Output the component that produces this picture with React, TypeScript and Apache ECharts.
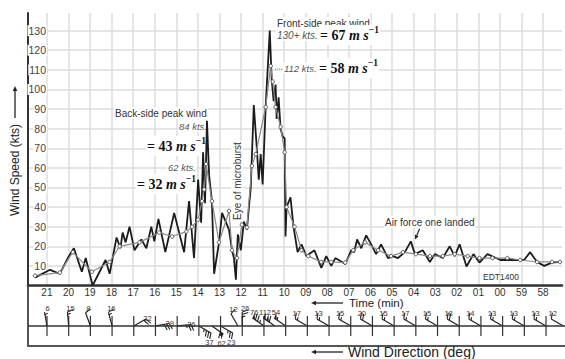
import React, { useEffect, useRef } from 'react';
import * as echarts from 'echarts';

// Minute labels along the time axis, left to right (time runs right-to-left).
const MINUTE_LABELS = ['21', '20', '19', '18', '17', '16', '15', '14', '13', '12', '11', '10',
  '09', '08', '07', '06', '05', '04', '03', '02', '01', '00', '59', '58'];

// Axis position of each sample, in minutes counted from the "58" mark.
const RAW_T = [23.55, 22.86, 22.40, 22.03, 21.75, 21.38, 21.20, 20.88, 20.28, 20.09, 19.77, 19.59,
  19.49, 19.35, 19.17, 18.94, 18.62, 18.39, 18.16, 18.02, 17.83, 17.51, 17.10, 16.64, 16.41, 16.18,
  15.99, 15.85, 15.76, 15.67, 15.58, 15.48, 15.35, 15.25, 15.02, 14.88, 14.56, 14.42, 14.33, 14.24,
  14.15, 14.01, 13.87, 13.73, 13.55, 13.41, 13.27, 13.18, 13.09, 13.00, 12.86, 12.67, 12.58, 12.49,
  12.40, 12.35, 12.26, 12.17, 12.07, 11.98, 11.94, 11.89, 11.71, 11.57, 11.38, 11.20, 10.97, 10.60,
  10.28, 10.05, 9.82, 9.63, 9.17, 8.89, 8.76, 8.62, 8.43, 8.20, 7.97, 7.74, 7.51, 7.19, 6.96, 6.73,
  6.41, 6.13, 5.94, 5.58, 5.25, 5.02, 4.65, 4.33, 4.10, 3.87, 3.55, 3.23, 2.95, 2.58, 1.98, 1.29,
  0.88, 0.60, 0.28, -0.05, -0.41, -0.78];
// Instantaneous wind speed (kts).
const RAW_KTS = [4, 8, 6, 14, 19, 7, 14, 0, 13, 6, 24.5, 19,
  27, 22, 30, 18, 23.5, 19, 30, 22.5, 34, 17, 37, 17, 43, 14,
  54, 32, 68, 42, 84, 56, 43, 6, 22, 37, 28.5, 18, 14, 3,
  26, 18, 32.6, 28.5, 50, 92, 70, 54, 67, 51.5, 91, 130, 105, 94,
  102.5, 85, 96, 80, 76, 75, 25, 40, 45, 30, 17, 21, 15, 18,
  9, 15, 10, 14, 11, 18, 17, 23.5, 19, 25.6, 21, 16, 21, 14, 15, 14,
  17, 22.5, 16, 18, 12, 16, 14, 20, 15, 21, 9.7, 16, 11.7, 16, 13, 13,
  13, 17, 12, 10, 11.7, 12];

// Averaged wind speed (kts), drawn with small open circles.
const AVG_T = [23.55, 22.40, 21.80, 20.92, 20.09, 19.63, 18.71, 17.79, 17.19, 16.54, 16.27, 15.99,
  15.81, 15.71, 15.62, 15.35, 15.02, 14.56, 14.42, 14.19, 13.96, 13.73, 13.50, 13.32, 12.86, 12.63,
  12.53, 12.40, 12.17, 11.98, 11.89, 11.52, 11.20, 10.88, 10.28, 9.82, 9.17, 8.80, 8.25, 7.65, 7.05,
  6.50, 5.90, 5.25, 4.65, 4.10, 3.50, 2.95, 2.35, 1.66, 1.06, 0.28, -0.41, -0.78];
const AVG_KTS = [5, 6.6, 17, 7, 12, 20, 22, 27, 25, 27.5, 30, 33.6,
  43, 49, 62, 43, 22, 38, 18, 14, 31, 29.6, 61, 67, 91, 112,
  104, 91, 81, 68, 40, 30, 18, 15, 12, 12, 11.7, 18, 22, 18, 15,
  17, 16, 15, 15, 16, 15, 14, 14, 14, 13, 12, 12, 12];

// Wind barbs: position (minutes), direction the wind blows from (deg), speed (kts).
const BARB_T = [23, 22, 21, 20, 19, 18, 17, 16, 15.4, 15, 14.2, 14, 13, 12.5, 12, 11, 10, 9, 8, 7,
  6, 5, 4, 3, 2, 1, 0, -0.8];
const BARB_DIR = [350, 355, 340, 345, 60, 80, 85, 120, 125, 120, 330, 0, 305, 305, 305, 300, 300,
  300, 300, 300, 300, 300, 300, 300, 300, 300, 300, 300];
const BARB_KTS = [6, 15, 8, 16, 22, 29, 26, 37, 62, 23, 12, 26, 76, 112, 54, 17, 13, 15, 20, 15,
  17, 15, 18, 14, 13, 13, 13, 12];

const BARB_BASE = 0.34;
const X_MIN = -0.875;
const X_MAX = 23.875;

const SANS = '"Liberation Sans", Arial, sans-serif';
const SERIF = '"Liberation Serif", "Times New Roman", serif';

function note(text: string, x: number, y: number, extra: any = {}) {
  return {
    type: 'text', z: 1, x, y,
    style: {
      text, fontFamily: SANS, fontSize: 10, fill: '#333', align: 'left', verticalAlign: 'middle',
      backgroundColor: '#fff', padding: [1, 1], ...extra,
    },
  };
}

function metric(num: string, x: number, y: number) {
  const base = { fontFamily: SERIF, fontWeight: 'bold', fontSize: 14, lineHeight: 20, fill: '#111' };
  return {
    type: 'text', z: 1, x, y,
    style: {
      text: `{n|= ${num} }{v|m s}{e|\u22121}`,
      align: 'left', verticalAlign: 'middle', backgroundColor: '#fff', padding: [0, 1],
      rich: {
        n: { ...base },
        v: { ...base, fontStyle: 'italic' },
        e: { ...base, fontSize: 9.5, lineHeight: 10, verticalAlign: 'top' },
      },
    },
  };
}

function arrow(x1: number, y1: number, x2: number, y2: number, color = '#222', w = 1.3, head = 5) {
  const dx = x2 - x1;
  const dy = y2 - y1;
  const len = Math.hypot(dx, dy);
  const ux = dx / len;
  const uy = dy / len;
  const bx = x2 - ux * head;
  const by = y2 - uy * head;
  const hw = head * 0.45;
  return [
    { type: 'line', z: 1, shape: { x1, y1, x2: bx, y2: by }, style: { stroke: color, lineWidth: w } },
    {
      type: 'polygon', z: 1,
      shape: { points: [[x2, y2], [bx - uy * hw, by + ux * hw], [bx + uy * hw, by - ux * hw]] },
      style: { fill: color },
    },
  ];
}

function tickRender(_params: any, api: any) {
  const [x, y] = api.coord([api.value(0), api.value(1)]);
  return {
    type: 'line',
    shape: { x1: x, y1: y - 10, x2: x, y2: y + 10 },
    style: { stroke: '#333', lineWidth: 1.2 },
  };
}

function barbRender(_params: any, api: any) {
  const kts = api.value(3);
  const dir = api.value(2);
  const [bx, by] = api.coord([api.value(0), api.value(1)]);
  const a = (dir * Math.PI) / 180;
  const ux = Math.sin(a);
  const uy = -Math.cos(a);
  const px = -uy;
  const py = ux;
  const L = 14;
  const F = 6;
  const GAP = 2.6;
  const ex = bx + ux * L;
  const ey = by + uy * L;
  const stroke = '#222';
  const kids: any[] = [
    { type: 'line', shape: { x1: bx, y1: by, x2: ex, y2: ey }, style: { stroke, lineWidth: 1.2 } },
  ];
  let rest = Math.round(kts / 5) * 5;
  let d = 0;
  while (rest >= 50) {
    const ax = ex - ux * d;
    const ay = ey - uy * d;
    const cx = ex - ux * (d + 3);
    const cy = ey - uy * (d + 3);
    kids.push({
      type: 'polygon',
      shape: { points: [[ax, ay], [ax + px * F + ux * 1.5, ay + py * F + uy * 1.5], [cx, cy]] },
      style: { fill: stroke },
    });
    d += 3.6;
    rest -= 50;
  }
  while (rest >= 10) {
    const ax = ex - ux * d;
    const ay = ey - uy * d;
    kids.push({
      type: 'line',
      shape: { x1: ax, y1: ay, x2: ax + px * F + ux * F * 0.35, y2: ay + py * F + uy * F * 0.35 },
      style: { stroke, lineWidth: 1.1 },
    });
    d += GAP;
    rest -= 10;
  }
  if (rest >= 5) {
    if (d === 0) d = GAP;
    const ax = ex - ux * d;
    const ay = ey - uy * d;
    kids.push({
      type: 'line',
      shape: { x1: ax, y1: ay, x2: ax + px * F * 0.5 + ux * F * 0.18, y2: ay + py * F * 0.5 + uy * F * 0.18 },
      style: { stroke, lineWidth: 1.1 },
    });
  }
  const below = uy > 0.2;
  kids.push({
    type: 'text',
    style: {
      text: String(kts),
      x: ex + px * 3,
      y: ey + py * 3 + (below ? 7 : -3),
      fill: '#333', fontSize: 7.5, fontFamily: SANS, align: 'center', verticalAlign: 'middle',
    },
  });
  return { type: 'group', children: kids };
}

function minuteLabel(v: number) {
  const r = Math.round(v);
  if (Math.abs(v - r) > 1e-6) return '';
  const i = 23 - r;
  return MINUTE_LABELS[i] ?? '';
}

function buildOption(): any {
  const raw = RAW_T.map((t, i) => [t, RAW_KTS[i]]);
  const avg = AVG_T.map((t, i) => [t, AVG_KTS[i]]);
  const barbs = BARB_T.map((t, i) => [t, BARB_BASE, BARB_DIR[i], BARB_KTS[i]]);
  const ticks = MINUTE_LABELS.map((_, i) => [23 - i, BARB_BASE]);

  return {
    animation: false,
    backgroundColor: '#fff',
    textStyle: { fontFamily: SANS },
    grid: [
      { left: 28, right: 0, top: 13, bottom: 73.5 },
      { left: 28, right: 0, top: 287, bottom: 13 },
    ],
    xAxis: [
      {
        type: 'value', gridIndex: 0, min: X_MIN, max: X_MAX, inverse: true,
        minInterval: 1, maxInterval: 1, splitNumber: 24,
        axisLine: { show: true, onZero: false, lineStyle: { color: '#333', width: 2.5 } },
        axisTick: { show: false },
        axisLabel: { color: '#333', fontSize: 10, margin: 2, formatter: minuteLabel },
        splitLine: { show: true, showMinLine: false, showMaxLine: false, lineStyle: { color: '#dcdcdc', width: 1.5 } },
      },
      {
        type: 'value', gridIndex: 1, min: X_MIN, max: X_MAX, inverse: true,
        axisLine: { show: true, onZero: false, lineStyle: { color: '#555', width: 2 } },
        axisTick: { show: false },
        axisLabel: { show: false },
        splitLine: { show: false },
      },
    ],
    yAxis: [
      {
        type: 'value', gridIndex: 0, min: 0, max: 139, interval: 10,
        axisLine: { show: true, onZero: false, lineStyle: { color: '#333', width: 2 } },
        axisTick: { show: false },
        axisLabel: {
          inside: true, align: 'right', margin: 19, color: '#444', fontSize: 10.5,
          backgroundColor: '#fff', padding: [0, 1],
          formatter: (v: number) => (v === 0 || v % 10 !== 0 ? '' : String(v)),
        },
        splitLine: { show: true, showMaxLine: false, lineStyle: { color: '#dcdcdc', width: 1.5 } },
      },
      {
        type: 'value', gridIndex: 1, min: 0, max: 1,
        axisLine: { show: true, onZero: false, lineStyle: { color: '#555', width: 2 } },
        axisTick: { show: false },
        axisLabel: { show: false },
        splitLine: { show: false },
      },
    ],
    series: [
      {
        name: 'Wind speed', type: 'line', xAxisIndex: 0, yAxisIndex: 0, data: raw, z: 3,
        symbol: 'none', lineStyle: { color: '#1c1c1c', width: 1.8 },
      },
      {
        name: 'Average', type: 'line', xAxisIndex: 0, yAxisIndex: 0, data: avg, z: 4,
        symbol: 'circle', symbolSize: 3.5,
        itemStyle: { color: '#fff', borderColor: '#555', borderWidth: 1 },
        lineStyle: { color: '#8a8a8a', width: 1.2 },
      },
      {
        name: 'Ticks', type: 'custom', xAxisIndex: 1, yAxisIndex: 1, data: ticks,
        renderItem: tickRender, silent: true,
        markLine: {
          silent: true, symbol: ['none', 'none'], label: { show: false },
          lineStyle: { color: '#333', width: 1.5, type: 'solid' },
          data: [{ yAxis: BARB_BASE }],
        },
      },
      {
        name: 'Barbs', type: 'custom', xAxisIndex: 1, yAxisIndex: 1, data: barbs,
        renderItem: barbRender, silent: true,
      },
    ],
    graphic: [
      {
        type: 'text', z: 1, x: 15, y: 170, rotation: Math.PI / 2,
        style: { text: 'Wind Speed (kts)', fontFamily: SANS, fontSize: 12, fill: '#222', align: 'center', verticalAlign: 'middle' },
      },
      ...arrow(15, 118, 15, 86),
      ...arrow(343, 303, 311, 303),
      {
        type: 'text', z: 1, x: 349, y: 303,
        style: { text: 'Time (min)', fontFamily: SANS, fontSize: 11.5, fill: '#222', align: 'left', verticalAlign: 'middle' },
      },
      ...arrow(343, 352, 311, 352),
      {
        type: 'text', z: 1, x: 348, y: 352,
        style: { text: 'Wind Direction (deg)', fontFamily: SANS, fontSize: 14, fill: '#222', align: 'left', verticalAlign: 'middle' },
      },
      note('Front-side peak wind', 276, 23),
      note('130+ kts.', 276, 35, { fontStyle: 'italic', fill: '#555' }),
      metric('67', 319, 35),
      { type: 'line', z: 1, shape: { x1: 275, y1: 69, x2: 283, y2: 69 }, style: { stroke: '#888', lineWidth: 1, lineDash: [1, 1] } },
      note('112 kts.', 283, 68, { fontStyle: 'italic', fill: '#555', fontSize: 9.5 }),
      metric('58', 318, 68),
      note('Back-side peak wind', 114, 113),
      note('84 kts.', 178, 126, { fontStyle: 'italic', fill: '#555', fontSize: 9.5 }),
      metric('43', 146, 146),
      note('62 kts.', 167, 167, { fontStyle: 'italic', fill: '#555', fontSize: 9.5 }),
      metric('32', 136, 184),
      {
        type: 'text', z: 1, x: 237, y: 181, rotation: Math.PI / 2,
        style: {
          text: 'Eye of microburst', fontFamily: SANS, fontSize: 10, fill: '#333',
          align: 'center', verticalAlign: 'middle', backgroundColor: '#fff', padding: [1, 1],
        },
      },
      note('Air force one landed', 384, 222),
      ...arrow(419.5, 229, 415, 239.5, '#222', 1.2, 4.5),
      note('EDT1400', 482, 277, { fontSize: 8.5, backgroundColor: 'transparent' }),
    ],
  };
}

export default function App() {
  const ref = useRef<HTMLDivElement>(null);
  useEffect(() => {
    if (!ref.current) return;
    const chart = echarts.init(ref.current, null, { renderer: 'svg' });
    chart.setOption(buildOption());
    return () => chart.dispose();
  }, []);
  return (
    <div
      ref={ref}
      style={{ position: 'fixed', left: 0, top: 0, width: 565, height: 359, background: '#fff' }}
    />
  );
}
